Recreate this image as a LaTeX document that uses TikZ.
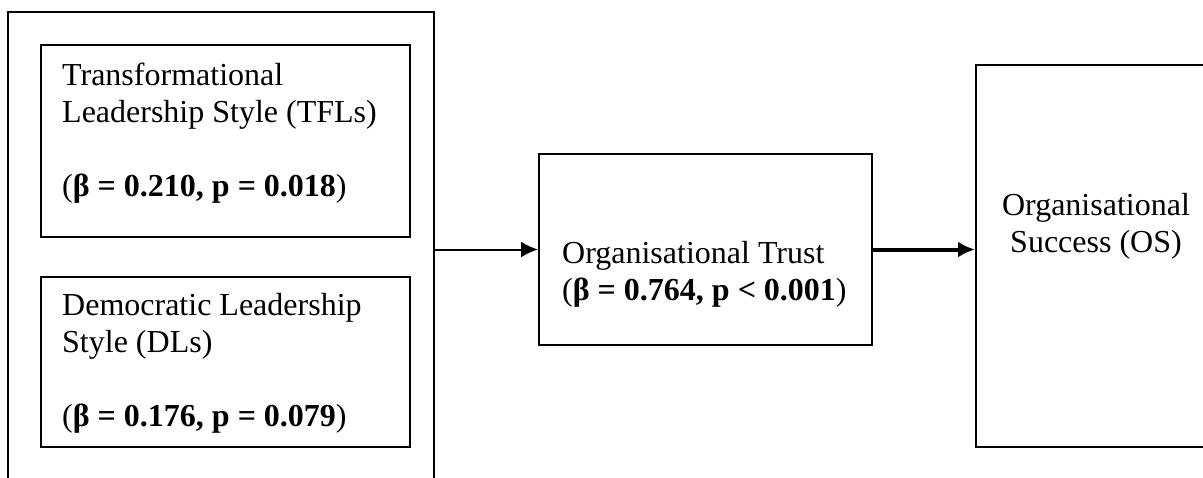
\documentclass[tikz,border=0pt]{standalone}
\usepackage{fontspec}
\setmainfont{Liberation Serif}
\usetikzlibrary{arrows.meta}
\begin{document}
\begin{tikzpicture}
      [
      x=1pt,y=-1pt,
      box/.style={draw,line width=2pt,rectangle,inner sep=0pt},
      txt/.style={inner sep=0pt,align=left,font=\fontsize{32}{37}\selectfont},
      link/.style={line width=2pt,-{Latex[length=17pt,width=16pt]}}
      ]
      \useasboundingbox (0,0) rectangle (1203,477);
      \clip (0,0) rectangle (1203,477);
      \node (group) at (221,266) [box,minimum width=426pt,minimum height=508pt] {};
      \node (tfl) at (225.5,141) [box,minimum width=369pt,minimum height=192pt] {};
      \node (dl) at (225.5,362) [box,minimum width=369pt,minimum height=170pt] {};
      \node (trust) at (705.5,249.5) [box,minimum width=333pt,minimum height=191pt] {};
      \node (success) at (1118,256) [box,minimum width=284pt,minimum height=382pt] {};
      % anchor base = baseline of the last line
      \node (tfltext) at (62,196) [txt,anchor=base west] {Transformational\\Leadership Style (TFLs)\\[37pt](\textbf{β = 0.210, p = 0.018})};
      \node (dltext) at (62,426) [txt,anchor=base west] {Democratic Leadership\\Style (DLs)\\[37pt](\textbf{β = 0.176, p = 0.079})};
      \node (trusttext) at (562,300) [txt,anchor=base west] {Organisational Trust\\(\textbf{β = 0.764, p < 0.001})};
      \node (successtext) at (1096,252) [txt,align=center,anchor=base] {Organisational\\Success (OS)};
      \draw [link] (group.east |- trust.west) to (trust.west);
      \draw [link, line width=4pt] (trust.east) to (trust.east -| success.west);
    \end{tikzpicture}
\end{document}
